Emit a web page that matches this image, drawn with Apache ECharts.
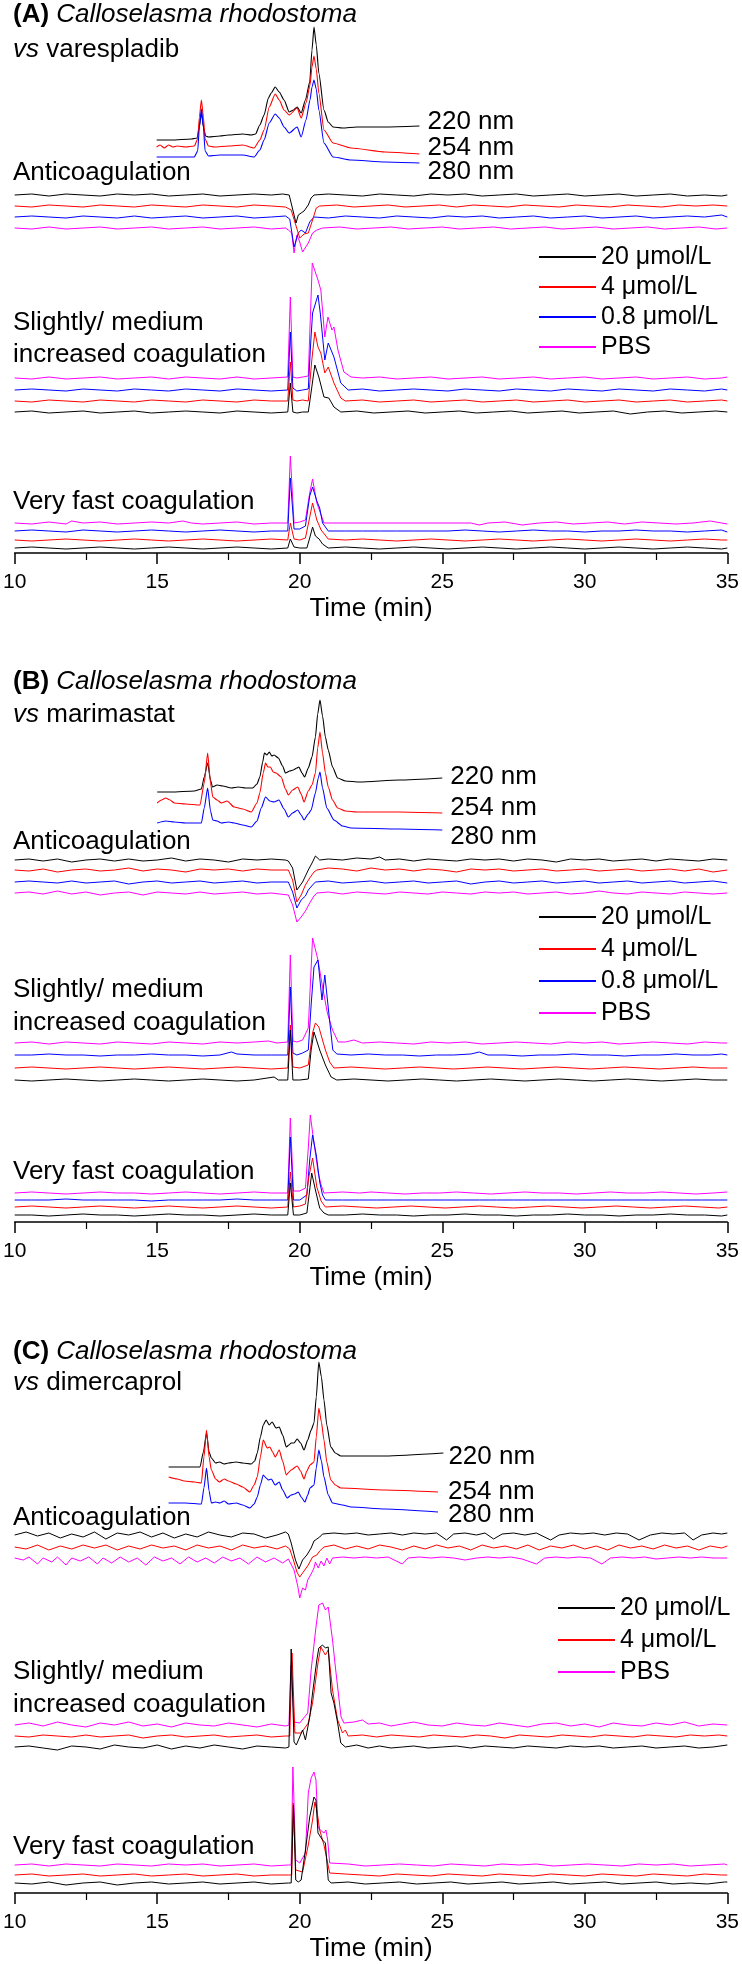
<!DOCTYPE html>
<html><head><meta charset="utf-8">
<script src="https://cdn.jsdelivr.net/npm/echarts@6/dist/echarts.min.js"></script>
<style>html,body{margin:0;padding:0;background:#fff}#c{width:742px;height:1964px}</style>
</head><body><div id="c"></div><script>
// ---------- tick labels / categories ----------
const timeTicks = [10, 15, 20, 25, 30, 35];
const concentrations = ['20 μmol/L', '4 μmol/L', '0.8 μmol/L', 'PBS'];
const wavelengths = ['220 nm', '254 nm', '280 nm'];
const assayLabels = ['Anticoagulation', 'Slightly/ medium', 'increased coagulation', 'Very fast coagulation'];
const panelTitles = [
  ['(A)', 'Calloselasma rhodostoma', 'varespladib'],
  ['(B)', 'Calloselasma rhodostoma', 'marimastat'],
  ['(C)', 'Calloselasma rhodostoma', 'dimercaprol']
];

// ---------- data: [time, signal, time, signal, ...] (signal relative to trace baseline) ----------
const A_uv220 = [14.98,0, 15.5,0, 16.2,1, 16.4,2, 16.47,12, 16.55,27, 16.63,12, 16.7,4, 16.8,3, 17.2,4, 17.5,5, 18.0,6, 18.3,5, 18.45,6, 18.6,15, 18.75,25, 18.9,42, 19.0,47, 19.14,53, 19.28,48, 19.45,40, 19.63,28, 19.78,30, 19.91,33, 20.05,27, 20.2,40, 20.35,58, 20.43,90, 20.5,113, 20.58,95, 20.67,67, 20.85,30, 21.0,18, 21.17,13, 21.5,12, 22,13, 23,13, 24.2,14];
const A_uv254 = [14.98,0, 15.1,2, 15.25,-1, 15.4,2, 15.55,0, 15.7,1, 16.0,0, 16.3,1, 16.42,8, 16.48,30, 16.55,47, 16.62,30, 16.68,8, 16.8,1, 17.0,0, 17.5,1, 18.0,2, 18.4,-1, 18.6,7, 18.75,17, 18.93,40, 19.14,53, 19.28,47, 19.45,37, 19.63,32, 19.91,39, 20.05,29, 20.22,44, 20.36,62, 20.43,80, 20.5,91, 20.58,78, 20.67,54, 20.85,17, 21.17,4, 21.8,-1, 23,-5, 24.2,-7];
const A_uv280 = [14.98,0, 15.5,0, 16.3,0, 16.42,6, 16.48,30, 16.55,48, 16.62,30, 16.68,6, 16.8,1, 17.2,2, 18.0,2, 18.4,0, 18.6,7, 18.75,17, 18.93,34, 19.14,43, 19.28,39, 19.45,30, 19.63,24, 19.91,30, 20.05,20, 20.22,37, 20.36,57, 20.43,70, 20.5,77, 20.58,68, 20.67,47, 20.85,14, 21.17,0, 21.8,-3, 23,-5, 24.2,-6];
const A_anti20 = [10,0, 10.6,1, 11.2,-1, 11.8,1, 12.4,0, 13,-1, 13.6,1, 14.2,0, 14.8,1, 15.4,-1, 16,0, 16.6,1, 17.2,-1, 17.8,0, 18.4,1, 19,0, 19.4,1, 19.63,0, 19.75,-14, 19.87,-28, 19.95,-20, 20.05,-18, 20.15,-16, 20.3,-10, 20.4,-3, 20.5,0, 21,1, 21.6,0, 22.2,-1, 22.8,1, 23.4,0, 24,-1, 24.6,1, 25.2,0, 25.8,1, 26.4,-1, 27,0, 27.6,1, 28.2,-1, 28.8,0, 29.4,1, 30,-1, 30.6,0, 31.2,1, 31.8,-1, 32.4,0, 33,1, 33.6,-1, 34.2,0, 34.8,-1, 35,0];
const A_anti4 = [10,0, 10.6,-1, 11.2,1, 11.8,0, 12.4,-1, 13,1, 13.6,0, 14.2,-1, 14.8,1, 15.4,0, 16,-1, 16.6,1, 17.2,0, 17.8,-1, 18.4,1, 19,0, 19.5,-1, 19.7,-4, 19.85,-18, 20.0,-32, 20.15,-28, 20.3,-27, 20.45,-14, 20.58,-2, 20.7,0, 21.3,1, 21.9,-1, 22.5,0, 23.1,1, 23.7,-1, 24.3,0, 24.9,1, 25.5,-1, 26.1,1, 26.7,0, 27.3,-1, 27.9,1, 28.5,0, 29.1,-1, 29.7,1, 30.3,0, 30.9,-1, 31.5,1, 32.1,0, 32.7,-1, 33.3,1, 33.9,0, 34.5,1, 35,0];
const A_anti08 = [10,0, 10.6,1, 11.2,0, 11.8,-1, 12.4,1, 13,0, 13.6,-1, 14.2,1, 14.8,-1, 15.4,0, 16,1, 16.6,-1, 17.2,0, 17.8,1, 18.4,-1, 19,0, 19.5,1, 19.65,-2, 19.8,-30, 19.95,-16, 20.05,-13, 20.2,-16, 20.35,-5, 20.5,0, 21,-1, 21.6,1, 22.2,0, 22.8,-1, 23.4,1, 24,0, 24.6,-1, 25.2,1, 25.8,0, 26.4,1, 27,-1, 27.6,0, 28.2,1, 28.8,-1, 29.4,0, 30,1, 30.6,-1, 31.2,0, 31.8,1, 32.4,-1, 33,0, 33.6,1, 34.2,0, 34.8,2, 35,0];
const A_antiPBS = [10,0, 10.6,-1, 11.2,1, 11.8,-1, 12.4,0, 13,1, 13.6,-1, 14.2,0, 14.8,1, 15.4,-1, 16,0, 16.6,1, 17.2,-1, 17.8,0, 18.4,1, 19,-1, 19.5,0, 19.6,-2, 19.72,-5, 19.8,-25, 19.9,-7, 20.0,-14, 20.1,-24, 20.3,-15, 20.45,-5, 20.6,-2, 20.8,0, 21.4,1, 22,-1, 22.6,0, 23.2,1, 23.8,-1, 24.4,0, 25,1, 25.6,-1, 26.2,0, 26.8,1, 27.4,-1, 28,0, 28.6,1, 29.2,-1, 29.8,0, 30.4,1, 31,-1, 31.6,0, 32.2,1, 32.8,-1, 33.4,0, 34,1, 34.6,-1, 35,0];
const A_slight20 = [10,0, 10.6,1, 11.2,-1, 11.8,0, 12.4,1, 13,-1, 13.6,0, 14.2,1, 14.8,-1, 15.4,0, 16,1, 16.6,0, 17.2,-1, 17.8,1, 18.4,0, 19,-1, 19.58,0, 19.67,29, 19.76,0, 19.9,-1, 20.1,0, 20.3,0, 20.4,20, 20.53,47, 20.67,35, 20.85,15, 21.02,14, 21.2,5, 21.44,0, 22,1, 22.6,-1, 23.2,0, 23.8,1, 24.4,-1, 25,0, 25.6,1, 26.2,-1, 26.8,0, 27.4,1, 28,-1, 28.6,0, 29.2,1, 29.8,-1, 30.4,0, 31,1, 31.6,-2, 32.2,0, 32.8,1, 33.4,-1, 34,0, 34.6,1, 35,0];
const A_slight4 = [10,0, 10.6,-1, 11.2,1, 11.8,0, 12.4,-1, 13,1, 13.6,0, 14.2,-1, 14.8,1, 15.4,0, 16,-1, 16.6,1, 17.2,0, 17.8,-1, 18.4,1, 19,0, 19.58,0, 19.67,39, 19.76,1, 19.9,0, 20.1,1, 20.3,0, 20.42,40, 20.53,69, 20.64,54, 20.74,48, 20.88,28, 21.0,34, 21.2,18, 21.44,3, 21.6,0, 22.2,1, 22.8,-1, 23.4,0, 24,1, 24.6,-1, 25.2,0, 25.8,1, 26.4,-1, 27,0, 27.6,1, 28.2,-1, 28.8,0, 29.4,1, 30,-1, 30.6,0, 31.2,1, 31.8,-1, 32.4,0, 33,1, 33.6,-1, 34.2,0, 34.8,1, 35,0];
const A_slight08 = [10,0, 10.6,1, 11.2,0, 11.8,-1, 12.4,1, 13,0, 13.6,-1, 14.2,1, 14.8,0, 15.4,-1, 16,1, 16.6,0, 17.2,-1, 17.8,1, 18.4,0, 19,-1, 19.58,0, 19.67,58, 19.76,2, 19.9,-1, 20.1,0, 20.3,1, 20.38,45, 20.45,77, 20.64,95, 20.72,77, 20.88,30, 21.0,47, 21.2,33, 21.44,7, 21.7,0, 22.2,1, 22.8,-1, 23.4,0, 24,1, 24.6,0, 25.2,-1, 25.8,1, 26.4,0, 27,-1, 27.6,1, 28.2,0, 28.8,-1, 29.4,1, 30,0, 30.6,-1, 31.2,1, 31.8,0, 32.4,-1, 33,1, 33.6,0, 34.2,-1, 34.8,1, 35,0];
const A_slightPBS = [10,0, 10.6,-1, 11.2,1, 11.8,-1, 12.4,0, 13,1, 13.6,-1, 14.2,0, 14.8,1, 15.4,-1, 16,1, 16.6,0, 17.2,-1, 17.8,1, 18.4,-1, 19,0, 19.58,1, 19.67,81, 19.76,1, 19.9,0, 20.1,1, 20.3,2, 20.44,115, 20.64,98, 20.74,88, 20.88,41, 20.99,61, 21.13,48, 21.2,51, 21.34,28, 21.55,6, 21.8,1, 22.2,0, 22.8,1, 23.4,-1, 24,0, 24.6,1, 25.2,-1, 25.8,0, 26.4,1, 27,-1, 27.6,0, 28.2,1, 28.8,-1, 29.4,0, 30,1, 30.6,-1, 31.2,0, 31.8,1, 32.4,-1, 33,0, 33.6,1, 34.2,-1, 34.8,0, 35,1];
const A_fast20 = [10,0, 10.6,1, 11.2,0, 11.8,-1, 12.4,0, 13,1, 13.6,0, 14.2,-1, 14.8,0, 15.4,1, 16,0, 16.6,-1, 17.2,0, 17.8,1, 18.4,0, 19,-1, 19.58,0, 19.67,9, 19.8,1, 20.0,0, 20.25,0, 20.35,10, 20.45,21, 20.55,12, 20.68,9, 20.8,4, 21.0,0, 21.6,1, 22.2,0, 22.8,-1, 23.4,0, 24,1, 24.6,0, 25.2,-1, 25.8,0, 26.4,1, 27,0, 27.6,-1, 28.2,0, 28.8,1, 29.4,0, 30,-1, 30.6,0, 31.2,1, 31.8,0, 32.4,-1, 33,0, 33.6,1, 34.2,0, 34.8,-1, 35,0];
const A_fast4 = [10,0, 10.6,-1, 11.2,0, 11.8,1, 12.4,0, 13,-1, 13.6,0, 14.2,1, 14.8,0, 15.4,-1, 16,0, 16.6,1, 17.2,0, 17.8,-1, 18.4,0, 19,1, 19.58,0, 19.67,17, 19.8,1, 20.0,0, 20.2,2, 20.33,20, 20.45,37, 20.6,20, 20.75,10, 21.0,1, 21.6,0, 22.2,1, 22.8,0, 23.4,-1, 24,0, 24.6,1, 25.2,0, 25.8,-1, 26.4,0, 27,1, 27.6,0, 28.2,-1, 28.8,0, 29.4,1, 30,0, 30.6,-1, 31.2,0, 31.8,1, 32.4,0, 33,-1, 33.6,0, 34.2,1, 34.8,0, 35,0];
const A_fast08 = [10,0, 10.6,1, 11.2,0, 11.8,-1, 12.4,1, 13,0, 13.6,-1, 14.2,0, 14.8,1, 15.4,0, 16,-1, 16.6,0, 17.2,1, 17.8,0, 18.4,-1, 19,0, 19.58,0, 19.67,53, 19.8,2, 20.0,2, 20.2,5, 20.35,35, 20.45,44, 20.6,30, 20.7,23, 20.8,8, 21.0,0, 21.6,0, 22.2,0, 22.8,0, 23.4,0, 24,0, 24.6,0, 25.2,0, 25.8,1, 26.4,0, 27,-1, 27.6,0, 28.2,1, 28.8,0, 29.4,0, 30,-1, 30.6,0, 31.2,0, 31.8,1, 32.4,0, 33,0, 33.6,-1, 34.2,0, 34.8,1, 35,-1];
const A_fastPBS = [10,0, 10.6,-1, 11.2,1, 11.8,-1, 12.0,2, 12.4,0, 13,1, 13.6,-1, 14.2,0, 14.8,1, 15.4,0, 15.9,2, 16.2,0, 16.6,-1, 17.2,0, 17.8,1, 18.4,-1, 19,0, 19.58,0, 19.67,67, 19.8,0, 20.0,1, 20.2,3, 20.35,30, 20.45,44, 20.6,20, 20.75,8, 20.85,0, 26,0, 26.3,-2, 26.6,0, 27.2,1, 27.8,-2, 28.4,0, 29.0,1, 29.6,-1, 30.2,0, 30.8,1, 31.4,-1, 32.0,1, 32.6,0, 33.2,-1, 33.8,0, 34.4,2, 35,-1];

const B_uv220 = [15.0,0, 15.5,0, 16.3,1, 16.55,3, 16.65,15, 16.77,29, 16.87,12, 16.94,5, 17.1,7, 17.3,6, 17.6,4, 17.85,5, 18.1,4, 18.35,4, 18.5,8, 18.6,15, 18.7,30, 18.76,39, 18.85,37, 18.93,40, 19.02,36, 19.1,37, 19.25,34, 19.4,26, 19.5,19, 19.65,21, 19.77,22, 19.9,24, 19.97,25, 20.08,19, 20.17,15, 20.3,24, 20.43,35, 20.55,55, 20.63,78, 20.71,92, 20.8,76, 20.9,55, 21.0,42, 21.15,25, 21.33,14, 21.6,11, 22.1,10, 23.5,12, 25.0,14];
const B_uv254 = [15.0,0, 15.15,3, 15.3,5, 15.45,3, 15.6,0, 16.0,-1, 16.5,-2, 16.65,20, 16.77,50, 16.87,20, 16.95,6, 17.1,3, 17.25,0, 17.45,2, 17.7,-4, 18.0,-6, 18.3,-9, 18.5,0, 18.6,10, 18.72,30, 18.8,40, 18.88,36, 18.97,36, 19.07,31, 19.17,30, 19.35,26, 19.5,14, 19.6,8, 19.75,13, 19.93,16, 20.05,9, 20.15,1, 20.3,12, 20.43,18, 20.55,30, 20.63,55, 20.71,71, 20.8,50, 20.9,30, 21.0,16, 21.15,3, 21.33,-5, 21.6,-8, 22,-9, 23.5,-9, 25,-10];
const B_uv280 = [15.0,0, 15.3,2, 15.6,1, 16.0,0, 16.55,0, 16.65,15, 16.77,35, 16.87,12, 16.95,3, 17.1,2, 17.25,0, 17.5,1, 17.7,0, 18.0,-2, 18.3,-4, 18.5,2, 18.65,15, 18.8,26, 18.95,22, 19.1,21, 19.27,23, 19.45,14, 19.6,6, 19.75,10, 19.93,13, 20.05,8, 20.15,3, 20.3,9, 20.4,13, 20.55,30, 20.65,45, 20.71,51, 20.8,35, 20.95,15, 21.2,3, 21.5,-3, 21.8,-5, 23.5,-6, 25,-7];
const B_anti20 = [10,0, 10.5,1, 11,-1, 11.5,1, 12,-2, 12.5,0, 13,1, 13.5,-1, 14,1, 14.5,-1, 15,0, 15.5,2, 16,-1, 16.5,1, 17,0, 17.5,-2, 18,1, 18.5,0, 19,1, 19.5,0, 19.6,-1, 19.75,-8, 19.9,-30, 20.1,-22, 20.3,-10, 20.45,-2, 20.55,4, 20.7,0, 21,1, 21.5,0, 22,2, 22.5,1, 22.8,3, 23,0, 23.5,1, 24,-1, 24.5,1, 25,0, 25.5,-1, 26,1, 26.5,0, 27,1, 27.5,-1, 28,1, 28.5,0, 29,-2, 29.5,1, 30,0, 30.5,1, 31,-1, 31.5,0, 32,1, 32.5,-1, 33,1, 33.5,0, 34,-1, 34.5,1, 35,0];
const B_anti4 = [10,0, 10.5,-1, 11,1, 11.5,-2, 12,0, 12.5,1, 13,-1, 13.5,0, 14,2, 14.5,-1, 15,1, 15.5,0, 16,-2, 16.5,1, 17,0, 17.5,1, 18,-1, 18.5,1, 19,0, 19.6,0, 19.75,-10, 19.9,-32, 20.05,-25, 20.2,-15, 20.35,-8, 20.5,-2, 20.6,0, 21,2, 21.5,1, 22,-1, 22.5,2, 23,0, 23.5,1, 24,-1, 24.5,1, 25,0, 25.5,-2, 26,1, 26.5,0, 27,1, 27.5,-1, 28,0, 28.5,1, 29,-1, 29.5,0, 30,1, 30.5,-1, 31,0, 31.5,1, 32,-1, 32.5,0, 33,1, 33.5,-1, 34,1, 34.5,-2, 35,0];
const B_anti08 = [10,0, 10.5,1, 11,0, 11.5,-1, 12,1, 12.5,-1, 13,0, 13.5,1, 14,-2, 14.5,0, 15,1, 15.5,-1, 16,0, 16.5,1, 17,-1, 17.5,0, 18,1, 18.5,-1, 19,0, 19.6,0, 19.75,-10, 19.9,-26, 20.05,-18, 20.2,-14, 20.3,-8, 20.45,-3, 20.55,0, 21,1, 21.5,-1, 22,0, 22.5,1, 23,-1, 23.5,0, 24,1, 24.5,-1, 25,0, 25.5,1, 26,-2, 26.5,0, 27,1, 27.5,-1, 28,0, 28.5,1, 29,-1, 29.5,0, 30,1, 30.5,-1, 31,0, 31.5,1, 32,-1, 32.5,0, 33,1, 33.5,-1, 34,0, 34.5,1, 35,-1];
const B_antiPBS = [10,0, 10.5,1, 11,-1, 11.5,2, 12,-1, 12.5,1, 13,-2, 13.5,0, 14,1, 14.5,-2, 15,1, 15.5,0, 16,-1, 16.5,1, 17,-1, 17.5,0, 18,1, 18.5,-1, 19,0, 19.6,-2, 19.75,-12, 19.9,-29, 20.05,-24, 20.2,-18, 20.35,-10, 20.5,-3, 20.6,0, 21,1, 21.5,-1, 22,1, 22.5,0, 23,-1, 23.5,1, 24,0, 24.5,-1, 25,1, 25.5,0, 26,-1, 26.5,1, 27,0, 27.5,1, 28,-1, 28.5,0, 29,1, 29.5,-1, 30,0, 30.5,2, 31,0, 31.5,-1, 32,1, 32.5,0, 33,-1, 33.5,1, 34,0, 34.5,-1, 35,0];
const B_slight20 = [10,0, 10.6,-1, 11.2,0, 11.8,1, 12.4,0, 13,-1, 13.6,0, 14.2,1, 14.8,0, 15.4,-1, 16,0, 16.6,1, 17.2,0, 17.8,-1, 18.4,0, 19.1,3, 19.25,0, 19.58,0, 19.67,50, 19.76,0, 20.0,0, 20.3,1, 20.4,30, 20.5,48, 20.7,30, 20.9,15, 21.1,3, 21.3,0, 21.9,1, 22.5,0, 23.1,-1, 23.7,0, 24.3,1, 24.9,0, 25.5,-1, 26.1,0, 26.7,1, 27.3,0, 27.9,-1, 28.5,0, 29.1,1, 29.7,0, 30.3,-1, 30.9,0, 31.5,1, 32.1,0, 32.7,-1, 33.3,0, 33.9,1, 34.5,0, 35,0];
const B_slight4 = [10,0, 10.6,1, 11.2,0, 11.8,-1, 12.4,0, 13,1, 13.6,0, 14.2,-1, 14.8,0, 15.4,1, 16,0, 16.6,-1, 17.2,0, 17.8,1, 18.4,0, 19,-1, 19.58,0, 19.67,43, 19.76,1, 20.0,0, 20.3,3, 20.45,35, 20.55,45, 20.67,41, 20.8,28, 20.9,18, 21.05,6, 21.2,0, 21.8,1, 22.4,0, 23,-1, 23.6,0, 24.2,1, 24.8,0, 25.4,-1, 26,0, 26.6,1, 27.2,0, 27.8,-1, 28.4,0, 29,1, 29.6,0, 30.2,-1, 30.8,0, 31.4,1, 32,0, 32.6,-1, 33.2,0, 33.8,1, 34.4,0, 35,0];
const B_slight08 = [10,0, 10.6,0, 11.2,1, 11.8,0, 12.4,0, 13,-1, 13.6,0, 14.2,0, 14.8,1, 15.4,0, 16,0, 16.6,-1, 17.2,0, 17.6,3, 17.8,1, 18.4,0, 19,0, 19.58,0, 19.67,68, 19.76,2, 19.9,0, 20.1,2, 20.3,5, 20.4,50, 20.5,88, 20.64,95, 20.78,55, 20.88,80, 21.02,42, 21.16,5, 21.3,1, 21.8,0, 22.4,1, 23,0, 23.6,0, 24.2,-1, 24.8,0, 25.4,0, 26,1, 26.3,3, 26.6,0, 27.2,0, 27.8,-1, 28.4,0, 29,0, 29.6,1, 30.2,0, 30.8,0, 31.4,-1, 32,0, 32.6,0, 33.2,1, 33.8,0, 34.4,0, 34.8,1, 35,0];
const B_slightPBS = [10,0, 10.6,1, 11.2,-1, 11.8,1, 12.4,0, 13,-1, 13.6,1, 14.2,0, 14.8,-1, 15.4,1, 16,0, 16.6,-1, 17.2,1, 17.8,0, 18.4,1, 18.9,2, 19.2,0, 19.58,1, 19.67,88, 19.76,2, 19.9,1, 20.1,3, 20.3,15, 20.45,105, 20.64,83, 20.8,56, 20.97,30, 21.15,13, 21.35,1, 21.6,1, 21.9,3, 22.2,0, 22.8,1, 23.4,0, 24,-1, 24.6,1, 25.2,0, 25.8,1, 26.4,-1, 27,0, 27.6,1, 28.2,0, 28.8,-1, 29.4,1, 30,0, 30.6,1, 31.2,-1, 31.8,0, 32.4,1, 33,0, 33.6,-1, 34.2,1, 34.8,0, 35,0];
const B_fast20 = [10,0, 10.6,0, 11.2,-1, 11.8,0, 12.4,1, 13,0, 13.6,0, 14.2,-1, 14.8,0, 15.4,1, 16,0, 16.6,0, 17.2,-1, 17.8,0, 18.4,1, 19,0, 19.58,0, 19.67,32, 19.78,0, 20.0,0, 20.25,2, 20.42,42, 20.55,25, 20.7,7, 20.85,2, 21.0,0, 21.6,0, 22.2,1, 22.8,0, 23.4,0, 24,-1, 24.6,0, 25.2,0, 25.8,1, 26.4,0, 27,0, 27.6,-1, 28.2,0, 28.8,0, 29.4,1, 30,0, 30.6,0, 31.2,-1, 31.8,0, 32.4,0, 33,1, 33.6,0, 34.2,0, 34.8,-1, 35,0];
const B_fast4 = [10,0, 10.6,1, 11.2,0, 11.8,-1, 12.4,0, 13,1, 13.6,0, 14.2,-1, 14.8,0, 15.4,1, 16,0, 16.6,-1, 17.2,0, 17.8,1, 18.4,0, 19,-1, 19.58,0, 19.67,35, 19.78,0, 20.0,1, 20.2,3, 20.32,30, 20.45,49, 20.6,20, 20.75,6, 20.9,0, 21.5,1, 22.1,0, 22.7,-1, 23.3,0, 23.9,1, 24.5,0, 25.1,-1, 25.7,0, 26.3,1, 26.9,0, 27.5,-1, 28.1,0, 28.7,1, 29.3,0, 29.9,-1, 30.5,0, 31.1,1, 31.7,0, 32.3,-1, 32.9,0, 33.5,1, 34.1,0, 34.7,-1, 35,0];
const B_fast08 = [10,0, 10.6,0, 11.2,0, 11.8,1, 12.4,0, 13,0, 13.6,0, 14.2,0, 14.8,-1, 15.4,0, 16,0, 16.6,0, 17.2,0, 17.8,1, 18.4,0, 19,0, 19.58,0, 19.67,63, 19.78,0, 20.0,0, 20.25,5, 20.35,40, 20.45,65, 20.58,45, 20.7,18, 20.8,5, 20.9,0, 21.5,0, 22.1,0, 22.7,0, 23.3,0, 23.9,0, 24.5,0, 25.1,0, 25.7,0, 26.3,0, 26.9,0, 27.5,0, 28.1,0, 28.7,0, 29.3,0, 29.9,0, 30.5,0, 31.1,0, 31.7,0, 32.3,0, 32.9,0, 33.5,0, 34.1,0, 34.7,0, 35,0];
const B_fastPBS = [10,0, 10.6,1, 11.2,0, 11.8,-1, 12.4,0, 13,1, 13.6,0, 14.2,0, 14.8,-1, 15.4,0, 16,1, 16.6,0, 17.2,-1, 17.8,0, 18.4,1, 19,0, 19.58,0, 19.67,75, 19.78,2, 20.0,2, 20.2,5, 20.3,45, 20.37,78, 20.5,50, 20.65,20, 20.75,8, 20.85,0, 21.5,1, 22.1,0, 22.5,1, 23.1,0, 23.7,-1, 24.3,0, 24.9,0, 25.5,1, 26.1,0, 26.7,-1, 27.3,0, 27.9,1, 28.5,0, 29.1,0, 29.7,-1, 30.3,0, 30.9,1, 31.5,0, 32.1,0, 32.7,1, 33.3,0, 33.9,-1, 34.5,0, 35,1];

const C_uv220 = [15.4,0, 16.0,0, 16.5,0, 16.62,15, 16.73,34, 16.82,15, 16.9,9, 17.05,4, 17.18,5, 17.35,3, 17.5,4, 17.77,5, 18.0,4, 18.3,3, 18.42,6, 18.51,14, 18.62,30, 18.72,42, 18.82,47, 18.93,42, 19.03,45, 19.17,39, 19.28,40, 19.4,32, 19.53,20, 19.62,22, 19.7,24, 19.8,24, 19.91,28, 20.03,24, 20.15,17, 20.28,27, 20.4,37, 20.5,44, 20.58,70, 20.67,105, 20.76,90, 20.85,67, 20.95,42, 21.09,20, 21.25,14, 21.44,11, 23,11, 25.04,14];
const C_uv254 = [15.4,0, 15.7,-2, 15.95,-4, 16.3,-5, 16.55,-6, 16.64,20, 16.73,47, 16.82,20, 16.9,7, 17.05,-2, 17.18,-5, 17.35,-2, 17.5,-4, 17.77,-7, 18.0,-10, 18.25,-15, 18.4,-8, 18.51,0, 18.62,20, 18.72,37, 18.86,29, 18.95,30, 19.05,25, 19.14,20, 19.28,27, 19.4,16, 19.53,2, 19.62,5, 19.7,7, 19.91,11, 20.03,6, 20.15,-2, 20.25,6, 20.36,12, 20.5,15, 20.58,40, 20.67,69, 20.76,55, 20.85,37, 20.95,15, 21.09,-3, 21.25,-8, 21.44,-11, 23,-13, 24.85,-15];
const C_uv280 = [15.4,0, 16.0,0, 16.55,-1, 16.64,15, 16.73,35, 16.82,12, 16.9,0, 17.05,1, 17.2,0, 17.35,2, 17.5,-1, 17.77,0, 18.0,-2, 18.25,-5, 18.4,-1, 18.51,6, 18.62,18, 18.72,28, 18.82,25, 18.9,23, 19.0,24, 19.14,18, 19.28,21, 19.4,13, 19.56,5, 19.7,8, 19.82,9, 19.95,11, 20.05,6, 20.18,1, 20.28,8, 20.36,15, 20.5,18, 20.58,35, 20.67,53, 20.76,42, 20.85,26, 21.0,8, 21.15,0, 21.5,-2, 21.8,-4, 23,-6, 24.85,-9];
const C_anti20 = [10,0, 10.4,3, 10.8,-1, 11.2,2, 11.6,-3, 12.0,1, 12.4,-2, 12.8,3, 13.2,-4, 13.6,2, 14.0,0, 14.4,3, 14.8,-2, 15.2,2, 15.6,-3, 16.0,1, 16.4,-2, 16.8,3, 17.2,0, 17.6,-2, 18.0,2, 18.4,1, 18.8,-3, 19.2,0, 19.5,3, 19.6,1, 19.7,-8, 19.85,-25, 19.97,-34, 20.1,-25, 20.25,-20, 20.4,-13, 20.5,-6, 20.6,-4, 20.7,-2, 20.8,1, 21.2,2, 21.6,1, 22.0,2, 22.4,0, 22.8,1, 23.2,2, 23.6,0, 24.0,2, 24.4,1, 24.8,2, 25.15,-5, 25.4,1, 25.8,2, 26.2,0, 26.5,2, 26.8,-4, 27.1,1, 27.5,2, 27.9,0, 28.3,2, 28.8,-5, 29.1,0, 29.5,2, 29.9,1, 30.3,2, 30.7,0, 31.1,2, 31.5,1, 31.9,-5, 32.3,0, 32.7,2, 33.1,1, 33.5,2, 33.8,-5, 34.1,0, 34.5,2, 34.8,1, 35,2];
const C_anti4 = [10,0, 10.4,-2, 10.8,2, 11.2,-3, 11.6,1, 12.0,-2, 12.4,2, 12.8,-1, 13.2,2, 13.6,-3, 14.0,1, 14.4,-2, 14.8,2, 15.2,-1, 15.6,1, 16.0,-3, 16.4,2, 16.8,-1, 17.2,1, 17.6,-3, 18.0,2, 18.4,-1, 18.8,1, 19.2,-2, 19.5,1, 19.65,-2, 19.8,-15, 19.9,-25, 20.0,-30, 20.15,-24, 20.3,-18, 20.45,-10, 20.6,-8, 20.7,-4, 20.85,0, 21.2,2, 21.6,-2, 22.0,1, 22.4,-2, 22.8,2, 23.2,0, 23.6,-3, 24.0,1, 24.4,-2, 24.8,2, 25.2,-1, 25.6,1, 26.0,-3, 26.4,2, 26.8,-1, 27.2,1, 27.6,-2, 28.0,2, 28.4,-3, 28.8,1, 29.2,-1, 29.6,2, 30.0,-2, 30.4,1, 30.8,-3, 31.2,2, 31.6,-1, 32.0,1, 32.4,-2, 32.8,2, 33.2,-1, 33.6,1, 34.0,-3, 34.4,1, 34.8,-1, 35,1];
const C_antiPBS = [10,0, 10.3,-2, 10.5,1, 10.8,-6, 11.0,0, 11.3,-4, 11.5,1, 11.8,-7, 12.0,0, 12.3,-3, 12.6,1, 12.9,-6, 13.1,0, 13.4,-5, 13.7,1, 14.0,-4, 14.3,0, 14.6,-7, 14.9,1, 15.2,-3, 15.5,0, 15.8,-6, 16.1,1, 16.4,-4, 16.7,0, 17.0,-5, 17.3,1, 17.6,-3, 17.9,0, 18.2,-6, 18.5,1, 18.8,-4, 19.1,0, 19.4,-5, 19.6,-1, 19.8,-12, 19.93,-28, 20.0,-40, 20.1,-30, 20.2,-32, 20.28,-22, 20.4,-16, 20.5,-10, 20.55,-4, 20.65,-10, 20.75,-3, 20.85,-8, 20.95,0, 21.05,-6, 21.15,0, 21.5,1, 21.9,0, 22.3,1, 22.7,0, 23.1,1, 23.6,-6, 23.8,0, 24.2,1, 24.6,0, 25.0,1, 25.4,0, 25.8,-2, 26.2,0, 26.6,1, 27.0,0, 27.4,1, 27.8,-1, 28.3,-6, 28.6,0, 29.0,1, 29.4,0, 29.8,1, 30.2,0, 30.6,-6, 30.9,0, 31.3,1, 31.7,0, 32.1,1, 32.5,-1, 32.9,0, 33.3,1, 33.7,0, 34.1,1, 34.5,0, 35,0];
const C_slight20 = [10,0, 10.5,1, 11,-1, 11.5,-3, 12,1, 12.5,0, 13,-2, 13.5,2, 14,0, 14.5,-1, 15,2, 15.5,-2, 16,1, 16.5,-1, 17,2, 17.5,0, 18,-2, 18.5,1, 19,0, 19.5,-1, 19.62,0, 19.7,98, 19.8,5, 19.88,2, 19.95,4, 20.1,17, 20.2,7, 20.35,30, 20.45,54, 20.6,87, 20.67,99, 20.8,102, 20.9,99, 21.0,100, 21.1,54, 21.2,44, 21.33,24, 21.44,4, 21.6,0, 22,2, 22.4,-1, 22.8,1, 23.2,-1, 23.6,0, 24,1, 24.5,-1, 25,0, 25.5,1, 26,-1, 26.5,1, 27,0, 27.5,-1, 28,1, 28.5,0, 29,-1, 29.5,1, 30,0, 30.5,1, 31,-1, 31.5,0, 32,1, 32.5,-1, 33,0, 33.5,1, 34,-1, 34.5,0, 35,2];
const C_slight4 = [10,0, 10.5,-1, 11,1, 11.5,0, 12,-1, 12.5,1, 13,-1, 13.5,0, 14,1, 14.5,-2, 15,0, 15.5,1, 16,-1, 16.5,0, 17,1, 17.5,-1, 18,0, 18.5,1, 19,-1, 19.5,0, 19.65,0, 19.73,83, 19.83,3, 20.05,3, 20.3,13, 20.45,33, 20.64,73, 20.74,89, 20.9,81, 21.0,86, 21.15,46, 21.33,16, 21.5,3, 21.6,6, 21.7,0, 22.2,1, 22.7,-1, 23.2,1, 23.7,0, 24.2,-1, 24.7,1, 25.2,0, 25.7,-1, 26.2,1, 26.7,0, 27.2,-2, 27.7,1, 28.2,0, 28.7,-1, 29.2,1, 29.7,0, 30.2,-1, 30.7,1, 31.2,0, 31.7,-1, 32.2,1, 32.7,0, 33.2,-1, 33.7,1, 34.2,0, 34.7,1, 35,0];
const C_slightPBS = [10,0, 10.5,2, 11,-1, 11.5,3, 12,0, 12.5,-2, 13,2, 13.5,0, 14,3, 14.5,-1, 15,1, 15.5,-2, 16,2, 16.5,0, 17,-1, 17.5,2, 18,0, 18.5,-2, 19,1, 19.5,-1, 19.62,0, 19.7,60, 19.8,3, 20.0,2, 20.28,12, 20.4,55, 20.57,98, 20.67,120, 20.8,122, 20.9,115, 21.0,118, 21.15,85, 21.25,58, 21.45,8, 21.55,2, 21.9,3, 22.2,5, 22.4,1, 22.8,2, 23.2,-1, 23.6,1, 24,3, 24.5,0, 25,-1, 25.5,2, 26,0, 26.5,-1, 27,2, 27.5,0, 28,-2, 28.5,1, 29,2, 29.5,-1, 30,1, 30.5,-2, 31,2, 31.5,0, 32,-1, 32.5,2, 33,0, 33.5,3, 34,-1, 34.5,1, 35,0];
const C_fast20 = [10,0, 10.6,-1, 11.2,1, 11.8,-2, 12.4,0, 13,1, 13.6,-2, 14.2,0, 14.8,1, 15.4,-1, 16,0, 16.6,1, 17.2,-1, 17.8,0, 18.4,1, 19,-1, 19.6,0, 19.7,0, 19.78,78, 19.86,3, 19.95,1, 20.05,3, 20.2,33, 20.35,66, 20.5,86, 20.57,83, 20.64,50, 20.8,43, 20.9,40, 21.0,3, 21.1,0, 21.7,1, 22.3,-1, 22.9,0, 23.5,1, 24.1,-1, 24.7,0, 25.3,1, 25.9,-1, 26.5,0, 27.1,1, 27.7,-1, 28.3,0, 28.9,1, 29.5,-1, 30.1,0, 30.7,1, 31.3,-1, 31.9,0, 32.5,1, 33.1,-1, 33.7,0, 34.3,-1, 34.9,1, 35,1];
const C_fast4 = [10,0, 10.6,1, 11.2,-1, 11.8,0, 12.4,1, 13,-1, 13.6,0, 14.2,1, 14.8,-1, 15.4,0, 16,1, 16.6,-1, 17.2,0, 17.8,1, 18.4,-1, 19,0, 19.6,0, 19.72,0, 19.77,72, 19.86,5, 20.1,3, 20.3,30, 20.45,55, 20.53,73, 20.6,65, 20.7,45, 20.85,30, 20.98,12, 21.05,2, 21.6,1, 22.2,0, 22.8,-1, 23.4,1, 24,0, 24.6,-1, 25.2,1, 25.8,0, 26.4,-1, 27,1, 27.6,0, 28.2,-1, 28.8,1, 29.4,0, 30,-1, 30.6,1, 31.2,0, 31.8,-1, 32.4,1, 33,0, 33.6,-1, 34.2,1, 34.8,0, 35,0];
const C_fastPBS = [10,0, 10.6,1, 11.2,-1, 11.8,1, 12.4,0, 13,-1, 13.6,1, 14.2,0, 14.8,-1, 15.4,1, 16,0, 16.6,1, 17.2,-1, 17.8,0, 18.4,1, 19,-1, 19.6,0, 19.7,0, 19.76,98, 19.86,5, 20.0,2, 20.2,12, 20.3,72, 20.4,87, 20.5,93, 20.57,85, 20.64,38, 20.72,35, 20.85,32, 20.92,35, 20.98,25, 21.05,2, 21.1,0, 21.7,1, 22.3,-1, 22.9,0, 23.5,1, 24.1,0, 24.7,-1, 25.3,1, 25.9,0, 26.5,-1, 27.1,1, 27.7,0, 28.3,1, 28.9,-1, 29.5,0, 30.1,1, 30.7,0, 31.3,-1, 31.9,1, 32.5,0, 33.1,1, 33.7,-1, 34.3,0, 34.9,1, 35,0];

// baseline levels of each stacked trace (arbitrary units above the time axis)
const A_uvBase = [413, 406, 396];
const A_antiBase = [358, 347, 336, 325];
const A_slightBase = [141, 152, 163, 175];
const A_fastBase = [5, 13, 22, 30];
const B_uvBase = [430, 419, 399];
const B_antiBase = [362, 352, 340, 329];
const B_slightBase = [142, 154, 167, 179];
const B_fastBase = [7, 15, 22, 29];
const C_uvBase = [426, 416, 390];
const C_antiBase = [358, 346, 335];
const C_slightBase = [146, 157, 168];
const C_fastBase = [10, 18, 28];

// ---------- build ----------
const FONT = "'Liberation Sans', Arial, sans-serif";
const FS = 26;
const COLORS = ['#000000', '#ff0000', '#0000ff', '#ff00ff'];
const UVCOLORS = ['#000000', '#ff0000', '#0000ff'];

const panels = [
  { top: 0, height: 553, uv: [A_uv220, A_uv254, A_uv280], uvBase: A_uvBase, uvDy: [-4, -6, 9], uvDx: [3, 3, 3],
    conc: [0, 1, 2, 3], anti: [A_anti20, A_anti4, A_anti08, A_antiPBS], antiBase: A_antiBase,
    slight: [A_slight20, A_slight4, A_slight08, A_slightPBS], slightBase: A_slightBase,
    fast: [A_fast20, A_fast4, A_fast08, A_fastPBS], fastBase: A_fastBase,
    titleY: 15, titleLH: 35, labelY: [173, 323, 355, 502], legend: { left: 538, y0: 257, gap: 30 } },
  { top: 640, height: 582, uv: [B_uv220, B_uv254, B_uv280], uvBase: B_uvBase, uvDy: [-1, -5, 7], uvDx: [3, 3, 3],
    conc: [0, 1, 2, 3], anti: [B_anti20, B_anti4, B_anti08, B_antiPBS], antiBase: B_antiBase,
    slight: [B_slight20, B_slight4, B_slight08, B_slightPBS], slightBase: B_slightBase,
    fast: [B_fast20, B_fast4, B_fast08, B_fastPBS], fastBase: B_fastBase,
    titleY: 682, titleLH: 33, labelY: [842, 990, 1023, 1172], legend: { left: 538, y0: 917, gap: 32 } },
  { top: 1310, height: 583, uv: [C_uv220, C_uv254, C_uv280], uvBase: C_uvBase, uvDy: [4, 0, 3], uvDx: [0, 5, 5],
    conc: [0, 1, 3], anti: [C_anti20, C_anti4, C_antiPBS], antiBase: C_antiBase,
    slight: [C_slight20, C_slight4, C_slightPBS], slightBase: C_slightBase,
    fast: [C_fast20, C_fast4, C_fastPBS], fastBase: C_fastBase,
    titleY: 1352, titleLH: 31, labelY: [1518, 1672, 1705, 1847], legend: { left: 557, y0: 1608, gap: 32 } }
];

function pairs(flat, base) {
  const out = [];
  for (let i = 0; i < flat.length; i += 2) out.push([flat[i], base + flat[i + 1]]);
  return out;
}

const grids = [], xAxes = [], yAxes = [], series = [], titles = [], legends = [], graphics = [];
panels.forEach((p, k) => {
  grids.push({ left: 12, right: 13, top: p.top, height: p.height });
  xAxes.push({
    type: 'value', gridIndex: k, min: timeTicks[0], max: timeTicks[timeTicks.length - 1], interval: 5,
    axisLine: { lineStyle: { color: '#000', width: 1.5 } },
    axisTick: { length: 11, lineStyle: { color: '#000', width: 1.5 } },
    minorTick: { show: true, splitNumber: 2, length: 7, lineStyle: { color: '#000', width: 1.2 } },
    splitLine: { show: false },
    axisLabel: { color: '#000', fontSize: 21, fontFamily: FONT, margin: 19,
      formatter: v => timeTicks.includes(v) ? String(v) : '' },
    name: 'Time (min)', nameLocation: 'middle', nameGap: 43,
    nameTextStyle: { color: '#000', fontSize: FS, fontFamily: FONT }
  });
  yAxes.push({ type: 'value', gridIndex: k, min: 0, max: p.height, show: false });

  p.uv.forEach((d, j) => {
    series.push({
      type: 'line', name: wavelengths[j], xAxisIndex: k, yAxisIndex: k, symbol: 'none', silent: true,
      smooth: 0.2, smoothMonotone: 'x',
      data: pairs(d, p.uvBase[j]), lineStyle: { color: UVCOLORS[j], width: 1.1 }, itemStyle: { color: UVCOLORS[j] },
      endLabel: { show: true, formatter: '{a}', color: '#000', fontSize: FS, fontFamily: FONT,
        distance: 5, offset: [p.uvDx[j], p.uvDy[j]] },
      z: 3
    });
  });
  [['anti', 'antiBase'], ['slight', 'slightBase'], ['fast', 'fastBase']].forEach(([key, bkey]) => {
    p[key].forEach((d, j) => {
      const c = p.conc[j];
      series.push({
        type: 'line', name: concentrations[c], xAxisIndex: k, yAxisIndex: k, symbol: 'none', silent: true,
        data: pairs(d, p[bkey][j]), lineStyle: { color: COLORS[c], width: 1 }, itemStyle: { color: COLORS[c] },
        z: 2 + (3 - j) * 0.1
      });
    });
  });

  const t = panelTitles[k];
  const lh = p.titleLH;
  titles.push({
    text: '{b|' + t[0] + '} {i|' + t[1] + '}\n{i|vs} ' + t[2],
    left: 13, top: p.titleY - lh / 2, padding: 0,
    textStyle: { color: '#000', fontSize: FS, fontWeight: 'normal', fontFamily: FONT, lineHeight: lh,
      rich: { b: { fontWeight: 'bold', fontSize: FS, fontFamily: FONT, lineHeight: lh, color: '#000' },
              i: { fontStyle: 'italic', fontSize: FS, fontFamily: FONT, lineHeight: lh, color: '#000' } } }
  });
  legends.push({
    orient: 'vertical', left: p.legend.left, top: p.legend.y0 - 12.5, padding: 0,
    itemWidth: 57, itemHeight: 14, itemGap: p.legend.gap - 25,
    selectedMode: false, data: p.conc.map(c => concentrations[c]),
    itemStyle: { opacity: 0 },
    textStyle: { color: '#000', fontSize: 25, lineHeight: 25, fontFamily: FONT }
  });
  assayLabels.forEach((s, j) => {
    graphics.push({ type: 'text', x: 13, y: p.labelY[j],
      style: { text: s, fill: '#000', font: FS + 'px ' + FONT, verticalAlign: 'middle' } });
  });
});

const chart = echarts.init(document.getElementById('c'), null, { renderer: 'canvas' });
chart.setOption({
  animation: false, backgroundColor: '#ffffff',
  title: titles, legend: legends, grid: grids, xAxis: xAxes, yAxis: yAxes, series: series, graphic: graphics
});
</script></body></html>
